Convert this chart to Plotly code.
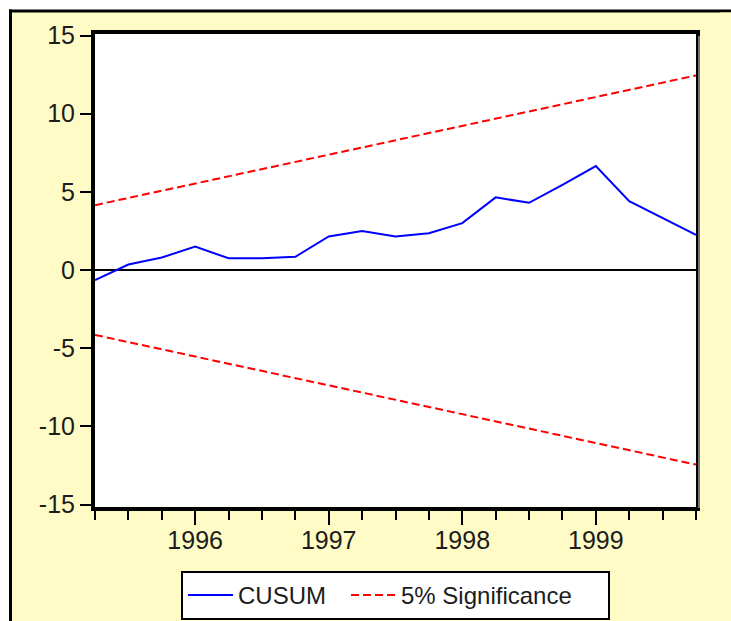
import plotly.graph_objects as go

# Quarterly sample used for the recursive-residual CUSUM test
quarters = ["1995Q2", "1995Q3", "1995Q4",
            "1996Q1", "1996Q2", "1996Q3", "1996Q4",
            "1997Q1", "1997Q2", "1997Q3", "1997Q4",
            "1998Q1", "1998Q2", "1998Q3", "1998Q4",
            "1999Q1", "1999Q2", "1999Q3", "1999Q4"]

cusum = [-0.65, 0.35, 0.80,
         1.50, 0.75, 0.75, 0.85,
         2.15, 2.50, 2.15, 2.35,
         3.00, 4.65, 4.30, 5.45,
         6.65, 4.40, 3.35, 2.25]

upper_5pct = [4.15, 4.61, 5.07,
              5.53, 5.99, 6.46, 6.92,
              7.38, 7.84, 8.30, 8.76,
              9.22, 9.68, 10.14, 10.60,
              11.07, 11.53, 11.99, 12.45]

lower_5pct = [-4.15, -4.61, -5.07,
              -5.53, -5.99, -6.46, -6.92,
              -7.38, -7.84, -8.30, -8.76,
              -9.22, -9.68, -10.14, -10.60,
              -11.07, -11.53, -11.99, -12.45]

year_ticks = [1996, 1997, 1998, 1999]
y_ticks = [-15, -10, -5, 0, 5, 10, 15]
y_tick_labels = ["-15", "-10", "-5", "0", "5", "10", "15"]

# Quarter labels -> fractional years so that observations are evenly spaced
x = [int(q[:4]) + (int(q[-1]) - 1) / 4 for q in quarters]

W, H = 731, 621
ML, MR, MT, MB = 95, 35, 34, 114
PW, PH = W - ML - MR, H - MT - MB


def px_x(p):
    return (p - ML) / PW


def px_y(p):
    return (H - MB - p) / PH


CREAM = "#FFFBC6"
TXT = "#1c1c1c"
FONT = "Liberation Sans, Arial, sans-serif"

fig = go.Figure()

fig.add_trace(go.Scatter(
    x=x, y=cusum, mode="lines", name="CUSUM",
    line=dict(color="#0000FF", width=2),
    legendwidth=103,
))
fig.add_trace(go.Scatter(
    x=x, y=upper_5pct, mode="lines", name="5% Significance",
    line=dict(color="#FF0000", width=2, dash="8px,4px"),
    legendwidth=202,
))
fig.add_trace(go.Scatter(
    x=x, y=lower_5pct, mode="lines", name="5% Significance",
    showlegend=False,
    line=dict(color="#FF0000", width=2, dash="8px,4px"),
))

# White page strip above and left of the cream panel, its black frame lines,
# and the white plotting area
shape_list = [
    dict(type="rect", x0=px_x(-50), x1=px_x(10), y0=px_y(H + 50), y1=px_y(-50),
         fillcolor="white", line=dict(width=0)),
    dict(type="rect", x0=px_x(-50), x1=px_x(W + 50), y0=px_y(11), y1=px_y(-50),
         fillcolor="white", line=dict(width=0)),
    dict(type="line", x0=px_x(10.5), x1=px_x(10.5), y0=px_y(9.5), y1=px_y(H + 50),
         line=dict(color="black", width=3)),
    dict(type="line", x0=px_x(9), x1=px_x(W + 50), y0=px_y(11), y1=px_y(11),
         line=dict(color="black", width=3)),
    dict(type="rect", x0=0, x1=1, y0=0, y1=1,
         fillcolor="white", line=dict(width=0)),
]
for s in shape_list:
    fig.add_shape(xref="paper", yref="paper", layer="below", **s)

# Cream margin strip at the far right of the panel (kept clear of any edge line)
fig.add_shape(type="rect", xref="paper", yref="paper", layer="above",
              x0=px_x(720), x1=px_x(W + 30), y0=px_y(H + 30), y1=px_y(12.5),
              fillcolor=CREAM, line=dict(width=0))

# Light grey drop shadow along the right edge of the plotting frame
fig.add_shape(type="line", xref="paper", yref="paper", layer="above",
              x0=px_x(699), x1=px_x(699), y0=px_y(508), y1=px_y(36),
              line=dict(color="#9a9a9a", width=1.5))

fig.update_xaxes(
    range=[x[0], x[-1]],
    tickmode="array", tickvals=year_ticks,
    ticktext=[str(v) for v in year_ticks],
    ticks="outside", ticklen=14, tickwidth=2, tickcolor="black",
    minor=dict(ticks="outside", ticklen=9, tickwidth=2, tickcolor="black",
               dtick=0.25, tick0=1996, showgrid=False),
    showgrid=False, zeroline=False,
    showline=True, linewidth=4, linecolor="black", mirror=True,
    tickfont=dict(family=FONT, size=25, color=TXT),
    ticklabelstandoff=-6,
)
fig.update_yaxes(
    range=[-15.16, 15.1],
    tickmode="array", tickvals=y_ticks, ticktext=y_tick_labels,
    ticks="outside", ticklen=11, tickwidth=2, tickcolor="black",
    showgrid=False,
    zeroline=True, zerolinecolor="black", zerolinewidth=2,
    showline=True, linewidth=4, linecolor="black", mirror=True,
    tickfont=dict(family=FONT, size=25, color=TXT),
)

fig.update_layout(
    width=W, height=H,
    margin=dict(l=ML, r=MR, t=MT, b=MB, pad=0, autoexpand=False),
    paper_bgcolor=CREAM, plot_bgcolor="white",
    font=dict(family=FONT, size=25, color=TXT),
    showlegend=True,
    legend=dict(
        orientation="h",
        x=px_x(181), xanchor="left",
        y=px_y(571), yanchor="top",
        bgcolor="white", bordercolor="black", borderwidth=2,
        font=dict(family=FONT, size=24, color=TXT),
        itemwidth=45,
    ),
)

fig.write_html("out.html")
